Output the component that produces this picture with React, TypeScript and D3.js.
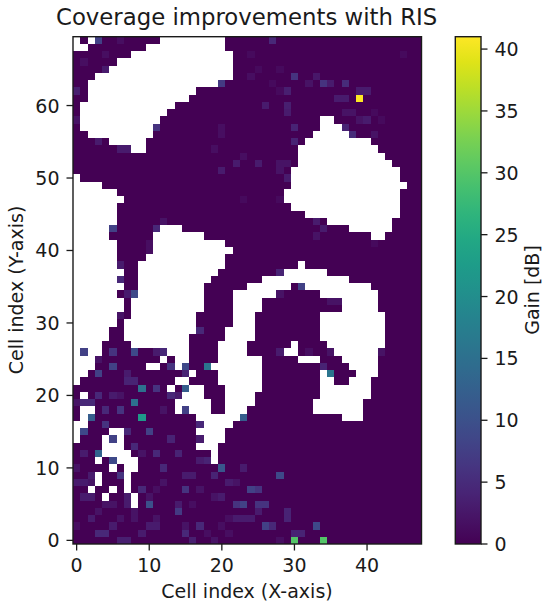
import React, { useMemo } from "react";
import * as d3 from "d3";

const W = 550, H = 608;
const nX = 48, nY = 70;
const maxGain = 41;
const xTicks = [0, 10, 20, 30, 40];
const yTicks = [0, 10, 20, 30, 40, 50, 60];
const cTicks = [0, 5, 10, 15, 20, 25, 30, 35, 40];
const title = "Coverage improvements with RIS";
const xLabel = "Cell index (X-axis)";
const yLabel = "Cell index (Y-axis)";
const cLabel = "Gain [dB]";

// Cells without coverage, per row: [y, [x0, x1], ...] (inclusive)
const noData: [number, ...[number, number][]][] = [
  [69, [0,0],[2,2],[12,20]], [68, [0,1],[10,20]], [67, [8,21]], [66, [6,21]], [65, [5,21]],
  [64, [3,21]], [63, [2,19]], [62, [2,16]], [61, [2,15]], [60, [1,13]], [59, [1,12]],
  [58, [1,11],[34,35]], [57, [1,10],[34,36]], [56, [2,10],[33,37]], [55, [5,9],[32,40]],
  [54, [8,9],[31,41]], [53, [31,42]], [52, [31,43]], [51, [30,44]], [50, [0,0],[30,44]],
  [49, [0,3],[30,45]], [48, [0,5],[29,44]], [47, [0,6],[29,44]], [46, [0,5],[30,44]],
  [45, [0,5],[32,44]], [44, [0,5],[35,43]], [43, [0,4],[12,14],[38,43]],
  [42, [0,4],[11,17],[41,42]], [41, [0,5],[11,20]], [40, [0,5],[11,21]], [39, [0,5],[10,20]],
  [38, [0,5],[9,20],[31,31]], [37, [0,6],[9,19],[29,34]], [36, [0,5],[9,18],[26,37]],
  [35, [0,6],[9,17],[24,29],[32,40]], [34, [0,5],[9,17],[22,27],[34,41]],
  [33, [0,6],[8,17],[22,25],[37,41]], [32, [0,6],[8,17],[22,25],[37,41]],
  [31, [0,5],[8,16],[22,24],[34,42]], [30, [0,5],[7,16],[22,24],[34,42]],
  [29, [0,4],[7,16],[21,24],[34,42]], [28, [0,4],[7,15],[21,24],[34,42]],
  [27, [0,3],[8,15],[20,23],[30,30],[35,42]], [26, [0,0],[2,3],[13,15],[20,23],[29,30],[36,41]],
  [25, [0,2],[12,12],[14,15],[20,25],[31,33],[37,41]], [24, [0,2],[10,11],[14,14],[19,25],[38,41]],
  [23, [0,1],[16,16],[20,25],[34,34],[39,41]], [22, [0,0],[14,15],[20,25],[34,35],[38,40]],
  [21, [13,13],[16,17],[21,25],[34,40]], [20, [1,1],[15,17],[21,24],[34,40]],
  [19, [14,18],[21,24],[33,39]], [18, [1,2],[14,14],[16,18],[21,23],[33,39]],
  [17, [1,1],[17,22],[37,39]], [16, [0,1],[18,21]], [15, [0,0],[5,6],[17,20]],
  [14, [0,0],[4,4],[6,6],[18,20]], [13, [4,6],[17,19]], [12, [4,7],[19,19]],
  [11, [3,3],[6,8],[19,19]], [10, [5,5],[7,8]], [9, [3,3],[7,7]], [8, [3,3],[7,7]],
  [7, [2,2],[5,5],[7,7]], [6, [4,4],[8,8]], [5, [8,8]],
];

// Gain cells that stand out from the near-zero floor: [x, y, gain dB]
const gains: [number, number, number][] = [
  [3,69,8],[6,69,1.5],[27,69,4.5],[4,67,1.5],[24,67,1],[45,67,1],[1,66,1.5],[4,65,3],[25,65,1],[28,65,1],
  [24,64,1.5],[30,64,6],[33,64,2.5],[20,63,7],[27,63,1],[32,63,2],[34,63,6],[35,63,3],[37,63,5],
  [0,62,3.5],[28,62,1],[29,62,3.5],[39,62,3],[40,62,3],[36,61,3],[37,61,3],[39,61,41],[26,60,3],[29,60,3.5],
  [29,59,3],[37,59,2],[38,59,2],[41,59,1],[0,58,2],[39,58,2],[40,58,3],[42,58,1],
  [11,57,6],[20,57,1.5],[30,57,4],[37,57,4],[20,56,1.5],[38,56,5],[41,56,2],[3,55,3],[30,55,4],
  [6,54,3],[7,54,3],[19,54,1.5],[23,53,1.5],[22,52,3],[25,52,3],[28,52,2],[29,52,2],[20,51,3],[28,51,2],
  [29,50,3],[23,47,1],[28,47,1],[12,44,2],[33,44,3],[5,43,8],[11,43,4.5],[34,43,3],[33,42,2],
  [10,41,1.5],[41,41,1],[10,40,1.5],[6,38,3],[28,37,4],[6,36,4.5],[31,35,8],[7,34,3],[8,34,9],[28,34,2],
  [35,33,2],[36,33,2],[6,31,2],[17,29,4.5],
  [1,26,8],[5,26,6],[8,26,9],[11,26,3],[12,26,4.5],[28,26,3],[32,26,1.5],[35,26,2],[42,26,2],[3,25,2],
  [5,24,8],[13,24,6],[15,24,9],[18,24,16],[34,24,4],[3,23,8],[7,23,3],[15,23,4],[35,23,16],[7,22,4],[8,22,4],
  [9,21,15],[11,21,6],[15,21,12],[3,20,4.5],[5,20,3],[6,20,2],[13,20,4.5],[14,20,3],
  [0,19,2],[1,19,4.5],[2,19,4.5],[8,19,15],[4,18,4.5],[6,18,6],[12,18,2],[15,18,8],
  [2,17,12],[9,17,22],[23,17,12],[4,16,6],[17,16,4.5],[1,15,9],[7,15,4.5],[10,15,8],
  [5,14,8],[13,14,4],[17,14,3],[8,13,4.5],[1,12,3],[3,12,13],[9,12,2],[11,12,4.5],[14,12,4],
  [5,11,9],[17,11,3],[18,11,4],[0,10,2],[12,10,4.5],[20,10,11],[23,10,3],
  [2,9,3],[6,9,6],[15,9,3],[16,9,3],[19,9,4],[28,9,9],[0,8,3],[1,8,3],[2,8,2],[12,8,2],[21,8,3],[22,8,2],
  [9,7,4.5],[11,7,1.5],[15,7,6],[17,7,2],[24,7,8],[25,7,6],[1,6,3],[2,6,3],[7,6,3],[10,6,2],[19,6,2],[20,6,3],
  [4,5,2],[5,5,2],[7,5,3],[10,5,10],[14,5,3],[16,5,1.5],[22,5,6],[23,5,8],[25,5,6],[26,5,6],
  [3,4,2],[8,4,2],[14,4,7],[25,4,3],[29,4,4],[2,3,3],[6,3,2],[8,3,2],[11,3,2],[21,3,1.5],[22,3,3],[23,3,3],[24,3,3],[29,3,4],
  [0,2,1.5],[5,2,3],[10,2,3],[11,2,3],[15,2,2],[17,2,4.5],[20,2,1.5],[26,2,8],[27,2,4.5],[33,2,9],
  [3,1,4.5],[4,1,4.5],[9,1,3],[15,1,4.5],[18,1,1.5],[21,1,1.5],[30,1,4],[31,1,4],
  [6,0,3.5],[7,0,3.5],[16,0,3.5],[19,0,2],[28,0,1.5],[30,0,30],[34,0,30],
];

const font = "'DejaVu Sans', sans-serif";
const ink = "#1a1a1a";
const tickSize = 19;

export default function App() {
  const plot = { l: 73, r: 421.5, t: 36.7, b: 544 };
  const bar = { l: 455.3, r: 481 };
  const x = useMemo(() => d3.scaleLinear().domain([-0.5, nX - 0.5]).range([plot.l, plot.r]), []);
  const y = useMemo(() => d3.scaleLinear().domain([-0.5, nY - 0.5]).range([plot.b, plot.t]), []);
  const c = useMemo(() => d3.scaleLinear().domain([0, maxGain]).range([plot.b, plot.t]), []);
  const color = (v: number) => d3.interpolateViridis(v / maxGain);
  const stops = d3.range(0, 1.0001, 0.05);
  const cell = x(1) - x(0);
  const cellH = y(0) - y(1);
  const tick = 6.5;

  return (
    <svg width={W} height={H} viewBox={`0 0 ${W} ${H}`} style={{ position: "absolute", left: 0, top: 0, background: "#fff" }} fontFamily={font}>
      <defs>
        <linearGradient id="vir" x1="0" y1="1" x2="0" y2="0">
          {stops.map((s) => <stop key={s} offset={s} stopColor={d3.interpolateViridis(s)} />)}
        </linearGradient>
      </defs>
      <text x={246.6} y={25} textAnchor="middle" fontSize={22.8} fill={ink}>{title}</text>

      <rect x={plot.l} y={plot.t} width={plot.r - plot.l} height={plot.b - plot.t} fill={color(0.1)} />
      <g shapeRendering="crispEdges">
        {noData.map(([row, ...spans]) => spans.map(([a, b]) => (
          <rect key={`${row}-${a}`} x={x(a - 0.5)} y={y(row + 0.5)} width={x(b + 0.5) - x(a - 0.5)} height={cellH} fill="#fff" />
        )))}
        {gains.map(([cx, cy, v]) => (
          <rect key={`g${cx}-${cy}`} x={x(cx - 0.5)} y={y(cy + 0.5)} width={cell} height={cellH} fill={color(v)} />
        ))}
      </g>
      <rect x={plot.l} y={plot.t} width={plot.r - plot.l} height={plot.b - plot.t} fill="none" stroke={ink} strokeWidth={1.4} />

      {xTicks.map((t) => (
        <g key={t}>
          <line x1={x(t)} x2={x(t)} y1={plot.b} y2={plot.b + tick} stroke={ink} strokeWidth={1.3} />
          <text x={x(t)} y={571.5} textAnchor="middle" fontSize={tickSize} fill={ink}>{t}</text>
        </g>
      ))}
      {yTicks.map((t) => (
        <g key={t}>
          <line x1={plot.l - tick} x2={plot.l} y1={y(t)} y2={y(t)} stroke={ink} strokeWidth={1.3} />
          <text x={59.5} y={y(t) + 7} textAnchor="end" fontSize={tickSize} fill={ink}>{t}</text>
        </g>
      ))}
      <text x={247} y={598} textAnchor="middle" fontSize={tickSize} fill={ink}>{xLabel}</text>
      <text transform={`translate(23,290) rotate(-90)`} textAnchor="middle" fontSize={tickSize} fill={ink}>{yLabel}</text>

      <rect x={bar.l} y={plot.t} width={bar.r - bar.l} height={plot.b - plot.t} fill="url(#vir)" stroke={ink} strokeWidth={1.4} />
      {cTicks.map((t) => (
        <g key={t}>
          <line x1={bar.r} x2={bar.r + tick} y1={c(t)} y2={c(t)} stroke={ink} strokeWidth={1.3} />
          <text x={494.5} y={c(t) + 7} fontSize={tickSize} fill={ink}>{t}</text>
        </g>
      ))}
      <text transform={`translate(539,290) rotate(-90)`} textAnchor="middle" fontSize={tickSize} fill={ink}>{cLabel}</text>
    </svg>
  );
}
